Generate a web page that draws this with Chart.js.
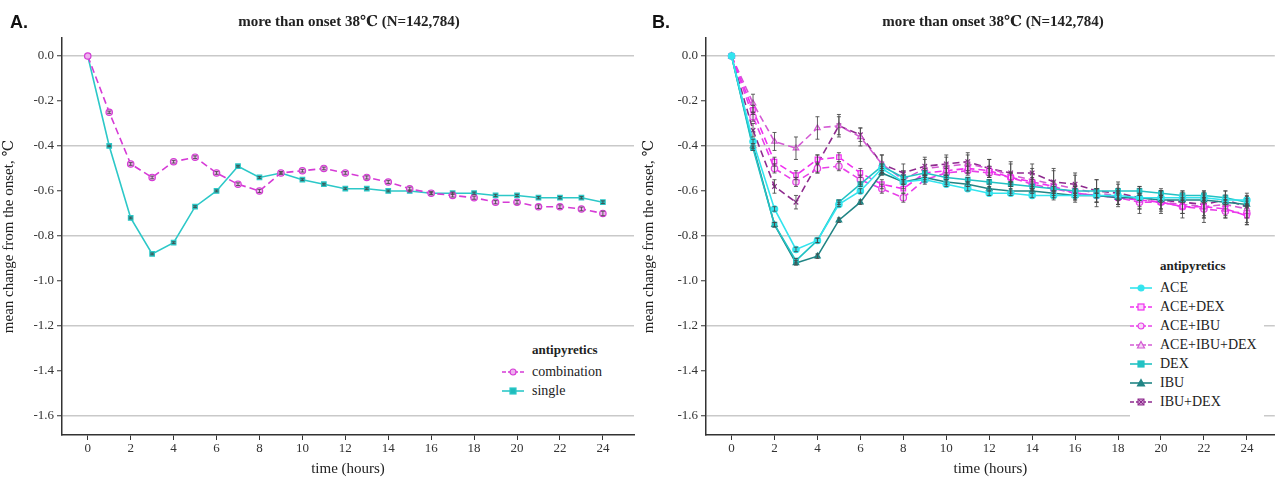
<!DOCTYPE html>
<html>
<head>
<meta charset="utf-8">
<script src="https://cdn.jsdelivr.net/npm/chart.js@4.4.1/dist/chart.umd.min.js"></script>
<style>
  body { margin: 0; background: #fff; }
  #wrap { position: relative; width: 1280px; height: 478px; overflow: hidden; font-family: 'Liberation Serif', 'DejaVu Serif', serif; color: #222; }
  .panel { position: absolute; top: 0; width: 640px; height: 478px; }
  .tag { position: absolute; top: 12px; font: bold 18px 'Liberation Sans', Arial, sans-serif; color: #111; }
  .title { position: absolute; top: 12px; font-weight: bold; font-size: 15px; transform: translateX(-50%); white-space: nowrap; }
  .legend { position: absolute; background: #fff; font-size: 14px; }
  .legend .lt { font-weight: bold; font-size: 13px; margin: 0 0 4px 30px; }
  .legend .it { display: flex; align-items: center; height: 19px; }
  .legend svg { margin-right: 8px; }
</style>
</head>
<body>
<div id="wrap">
  <div class="panel" style="left:0"><canvas id="chartA" width="640" height="478"></canvas></div>
  <div class="panel" style="left:640px"><canvas id="chartB" width="640" height="478"></canvas></div>
  <div class="tag" style="left:10px">A.</div>
  <div class="tag" style="left:652px">B.</div>
  <div class="title" style="left:349px">more than onset 38℃ (N=142,784)</div>
  <div class="title" style="left:993px">more than onset 38℃ (N=142,784)</div>
  <div class="legend" id="legendA" style="left:502px; top:342px; width:120px;"></div>
  <div class="legend" id="legendB" style="left:1130px; top:258px; width:134px; height:164px;"></div>
</div>
<script>
// Data
// =====================================================
const hours = [0, 1, 2, 3, 4, 5, 6, 7, 8, 9, 10, 11, 12, 13, 14, 15, 16, 17, 18, 19, 20, 21, 22, 23, 24];
const xTicks = [0, 2, 4, 6, 8, 10, 12, 14, 16, 18, 20, 22, 24];
const yTicks = [0, -0.2, -0.4, -0.6, -0.8, -1.0, -1.2, -1.4, -1.6];

// Panel A
const combination = [0, -0.25, -0.48, -0.54, -0.47, -0.45, -0.52, -0.57, -0.60, -0.52, -0.51, -0.50, -0.52, -0.54, -0.56, -0.59, -0.61, -0.62, -0.63, -0.65, -0.65, -0.67, -0.67, -0.68, -0.70];
const combinationErr = [0, 0.005, 0.006, 0.006, 0.006, 0.006, 0.006, 0.006, 0.007, 0.006, 0.006, 0.006, 0.006, 0.007, 0.007, 0.007, 0.007, 0.007, 0.007, 0.007, 0.008, 0.008, 0.008, 0.008, 0.01];
const single = [0, -0.40, -0.72, -0.88, -0.83, -0.67, -0.60, -0.49, -0.54, -0.52, -0.55, -0.57, -0.59, -0.59, -0.60, -0.60, -0.61, -0.61, -0.61, -0.62, -0.62, -0.63, -0.63, -0.63, -0.65];
const singleErr = [0, 0.003, 0.004, 0.004, 0.004, 0.004, 0.004, 0.004, 0.004, 0.004, 0.004, 0.004, 0.004, 0.004, 0.004, 0.004, 0.004, 0.005, 0.005, 0.005, 0.005, 0.005, 0.005, 0.005, 0.006];

// Panel B
const aceVals = [0, -0.38, -0.68, -0.86, -0.82, -0.66, -0.60, -0.50, -0.56, -0.55, -0.57, -0.59, -0.61, -0.61, -0.62, -0.62, -0.62, -0.62, -0.62, -0.63, -0.63, -0.63, -0.63, -0.64, -0.64];
const aceDexVals = [0, -0.24, -0.47, -0.53, -0.46, -0.45, -0.52, -0.57, -0.59, -0.52, -0.51, -0.50, -0.51, -0.54, -0.56, -0.58, -0.61, -0.62, -0.63, -0.64, -0.65, -0.67, -0.67, -0.68, -0.71];
const aceIbuVals = [0, -0.27, -0.50, -0.56, -0.50, -0.49, -0.55, -0.59, -0.63, -0.55, -0.52, -0.51, -0.52, -0.54, -0.57, -0.59, -0.61, -0.62, -0.63, -0.65, -0.65, -0.67, -0.68, -0.69, -0.70];
const aceIbuDexVals = [0, -0.21, -0.38, -0.41, -0.32, -0.31, -0.36, -0.48, -0.55, -0.50, -0.49, -0.48, -0.50, -0.53, -0.55, -0.57, -0.59, -0.61, -0.62, -0.64, -0.65, -0.66, -0.67, -0.66, -0.68];
const dexVals = [0, -0.41, -0.75, -0.91, -0.82, -0.65, -0.57, -0.49, -0.54, -0.52, -0.54, -0.55, -0.56, -0.57, -0.58, -0.59, -0.60, -0.60, -0.60, -0.60, -0.61, -0.62, -0.62, -0.63, -0.65];
const ibuVals = [0, -0.40, -0.75, -0.92, -0.89, -0.73, -0.65, -0.52, -0.56, -0.54, -0.56, -0.57, -0.59, -0.60, -0.60, -0.61, -0.62, -0.62, -0.63, -0.63, -0.64, -0.64, -0.64, -0.65, -0.66];
const ibuDexVals = [0, -0.33, -0.58, -0.65, -0.48, -0.31, -0.35, -0.48, -0.52, -0.49, -0.48, -0.47, -0.50, -0.52, -0.52, -0.56, -0.57, -0.60, -0.61, -0.63, -0.64, -0.65, -0.66, -0.64, -0.67];

const smallErr = [0, 0.01, 0.01, 0.01, 0.01, 0.01, 0.01, 0.01, 0.01, 0.01, 0.01, 0.01, 0.01, 0.01, 0.01, 0.01, 0.01, 0.01, 0.012, 0.012, 0.012, 0.012, 0.012, 0.012, 0.015];
const comboErr = [0, 0.02, 0.02, 0.02, 0.02, 0.02, 0.02, 0.02, 0.02, 0.02, 0.02, 0.02, 0.02, 0.02, 0.02, 0.02, 0.03, 0.03, 0.03, 0.03, 0.03, 0.03, 0.04, 0.03, 0.04];
const aceIbuDexErr = [0, 0.04, 0.04, 0.05, 0.05, 0.05, 0.04, 0.04, 0.04, 0.04, 0.04, 0.04, 0.04, 0.05, 0.05, 0.07, 0.06, 0.06, 0.05, 0.06, 0.05, 0.06, 0.07, 0.06, 0.07];
const ibuDexErr = [0, 0.03, 0.03, 0.03, 0.04, 0.04, 0.03, 0.04, 0.04, 0.04, 0.04, 0.04, 0.04, 0.05, 0.04, 0.05, 0.05, 0.05, 0.05, 0.05, 0.05, 0.05, 0.06, 0.04, 0.05];

const FONT = "'Liberation Serif', 'DejaVu Serif', serif";

// Helpers
// =====================================================
function makeSeries(label, vals, errs, style) {
  return {
    label: label,
    data: hours.map((h, i) => ({ x: h, y: vals[i] })),
    errors: errs,
    borderColor: style.color,
    backgroundColor: style.fill,
    borderWidth: 1.6,
    borderDash: style.dashed ? [7, 4] : [],
    pointStyle: style.point,
    pointRadius: 3.2,
    pointBorderWidth: 1.2,
    pointBorderColor: style.color,
    pointBackgroundColor: style.fill,
    tension: 0,
    fill: false
  };
}

// error bars drawn on top through the chart scales
const errorBars = {
  id: 'errorBars',
  afterDatasetsDraw(chart) {
    const { ctx, scales: { x, y } } = chart;
    ctx.save();
    ctx.strokeStyle = 'rgba(70,70,70,0.85)';
    ctx.lineWidth = 1;
    chart.data.datasets.forEach(ds => {
      if (!ds.errors) return;
      ds.data.forEach((p, j) => {
        const e = ds.errors[j];
        if (!e) return;
        const px = x.getPixelForValue(p.x);
        const top = y.getPixelForValue(p.y + e);
        const bot = y.getPixelForValue(p.y - e);
        ctx.beginPath();
        ctx.moveTo(px, top); ctx.lineTo(px, bot);
        ctx.moveTo(px - 2, top); ctx.lineTo(px + 2, top);
        ctx.moveTo(px - 2, bot); ctx.lineTo(px + 2, bot);
        ctx.stroke();
      });
    });
    ctx.restore();
  }
};

function isMajor(v) {
  return Math.abs(Math.round(v / 0.4) * 0.4 - v) < 1e-6;
}

function buildOptions(yWidth, xMin, xMax, padRight) {
  return {
    responsive: false,
    animation: false,
    layout: { padding: { top: 38, right: padRight, left: 0, bottom: 0 } },
    plugins: { legend: { display: false }, tooltip: { enabled: false } },
    scales: {
      x: {
        type: 'linear',
        min: xMin,
        max: xMax,
        afterBuildTicks: s => { s.ticks = xTicks.map(v => ({ value: v })); },
        afterFit: s => { s.height = 43; },
        border: { display: true, color: '#333', width: 1.5 },
        grid: { drawOnChartArea: false, drawTicks: true, tickLength: 5, tickColor: '#333', tickWidth: 1 },
        ticks: { color: '#333', font: { family: FONT, size: 13 }, padding: 1, maxRotation: 0 },
        title: { display: true, text: 'time (hours)', color: '#222', font: { family: FONT, size: 15 }, padding: { top: 0, bottom: 0 } }
      },
      y: {
        type: 'linear',
        min: -1.685,
        max: 0.08,
        afterBuildTicks: s => { s.ticks = yTicks.map(v => ({ value: v })); },
        afterFit: s => { s.width = yWidth; },
        border: { display: true, color: '#333', width: 1.5 },
        grid: {
          color: c => (c.tick && isMajor(c.tick.value)) ? '#c9c9c9' : 'rgba(0,0,0,0)',
          lineWidth: 1.5,
          tickLength: 5,
          tickColor: '#333',
          tickWidth: 1
        },
        ticks: { color: '#333', font: { family: FONT, size: 13 }, padding: 3, callback: v => v.toFixed(1) },
        title: { display: true, text: 'mean change from the onset, ℃', color: '#222', font: { family: FONT, size: 15 }, padding: { top: 0, bottom: 2 } }
      }
    }
  };
}

// Panel A
// =====================================================
const stylesA = {
  combination: { color: '#d63bd6', fill: '#eeb0ee', point: 'circle', dashed: true },
  single: { color: '#2cc8c8', fill: '#1fbcbc', point: 'rect', dashed: false }
};

const datasetsA = [
  makeSeries('combination', combination, combinationErr, stylesA.combination),
  makeSeries('single', single, singleErr, stylesA.single)
];

new Chart(document.getElementById('chartA'), {
  type: 'line',
  data: { datasets: datasetsA },
  options: buildOptions(62, -1.2, 25.45, 6),
  plugins: [errorBars]
});

// Panel B
// =====================================================
const stylesB = {
  ACE: { color: '#33e4ee', fill: '#33e4ee', point: 'circle', dashed: false },
  'ACE+DEX': { color: '#f030f0', fill: '#fbd2fb', point: 'rect', dashed: true },
  'ACE+IBU': { color: '#e840e8', fill: '#f8d8f8', point: 'circle', dashed: true },
  'ACE+IBU+DEX': { color: '#d45ad4', fill: '#f3d6f3', point: 'triangle', dashed: true },
  DEX: { color: '#22c2c4', fill: '#22c2c4', point: 'rect', dashed: false },
  IBU: { color: '#218585', fill: '#218585', point: 'triangle', dashed: false },
  'IBU+DEX': { color: '#8e2a8e', fill: '#c890c8', point: 'crossRot', dashed: true }
};

const datasetsB = [
  makeSeries('ACE', aceVals, smallErr, stylesB['ACE']),
  makeSeries('DEX', dexVals, smallErr, stylesB['DEX']),
  makeSeries('IBU', ibuVals, smallErr, stylesB['IBU']),
  makeSeries('ACE+DEX', aceDexVals, comboErr, stylesB['ACE+DEX']),
  makeSeries('ACE+IBU', aceIbuVals, comboErr, stylesB['ACE+IBU']),
  makeSeries('ACE+IBU+DEX', aceIbuDexVals, aceIbuDexErr, stylesB['ACE+IBU+DEX']),
  makeSeries('IBU+DEX', ibuDexVals, ibuDexErr, stylesB['IBU+DEX'])
];

new Chart(document.getElementById('chartB'), {
  type: 'line',
  data: { datasets: datasetsB },
  options: buildOptions(66, -1.19, 25.3, 0),
  plugins: [errorBars]
});

// Legends
// =====================================================
function markerSvg(style) {
  const c = style.color, f = style.fill;
  let m = '';
  if (style.point === 'circle') m = `<circle cx="11" cy="6" r="3" fill="${f}" stroke="${c}" stroke-width="1.2"/>`;
  else if (style.point === 'rect') m = `<rect x="8" y="3" width="6" height="6" fill="${f}" stroke="${c}" stroke-width="1.2"/>`;
  else if (style.point === 'triangle') m = `<polygon points="11,2.5 14.5,9 7.5,9" fill="${f}" stroke="${c}" stroke-width="1.2"/>`;
  else m = `<rect x="8" y="3" width="6" height="6" fill="${f}" stroke="${c}" stroke-width="1"/><path d="M8 3 L14 9 M14 3 L8 9" stroke="${c}" stroke-width="1"/>`;
  const dash = style.dashed ? 'stroke-dasharray="4 2"' : '';
  return `<svg width="22" height="12"><line x1="0" y1="6" x2="22" y2="6" stroke="${c}" stroke-width="1.6" ${dash}/>${m}</svg>`;
}

function renderLegend(el, names, styles) {
  el.innerHTML = `<div class="lt">antipyretics</div>` + names.map(n => `
    <div class="it">${markerSvg(styles[n])}<span>${n}</span></div>
  `).join('');
}

renderLegend(document.getElementById('legendA'), ['combination', 'single'], stylesA);
renderLegend(document.getElementById('legendB'), ['ACE', 'ACE+DEX', 'ACE+IBU', 'ACE+IBU+DEX', 'DEX', 'IBU', 'IBU+DEX'], stylesB);
</script>
</body>
</html>
